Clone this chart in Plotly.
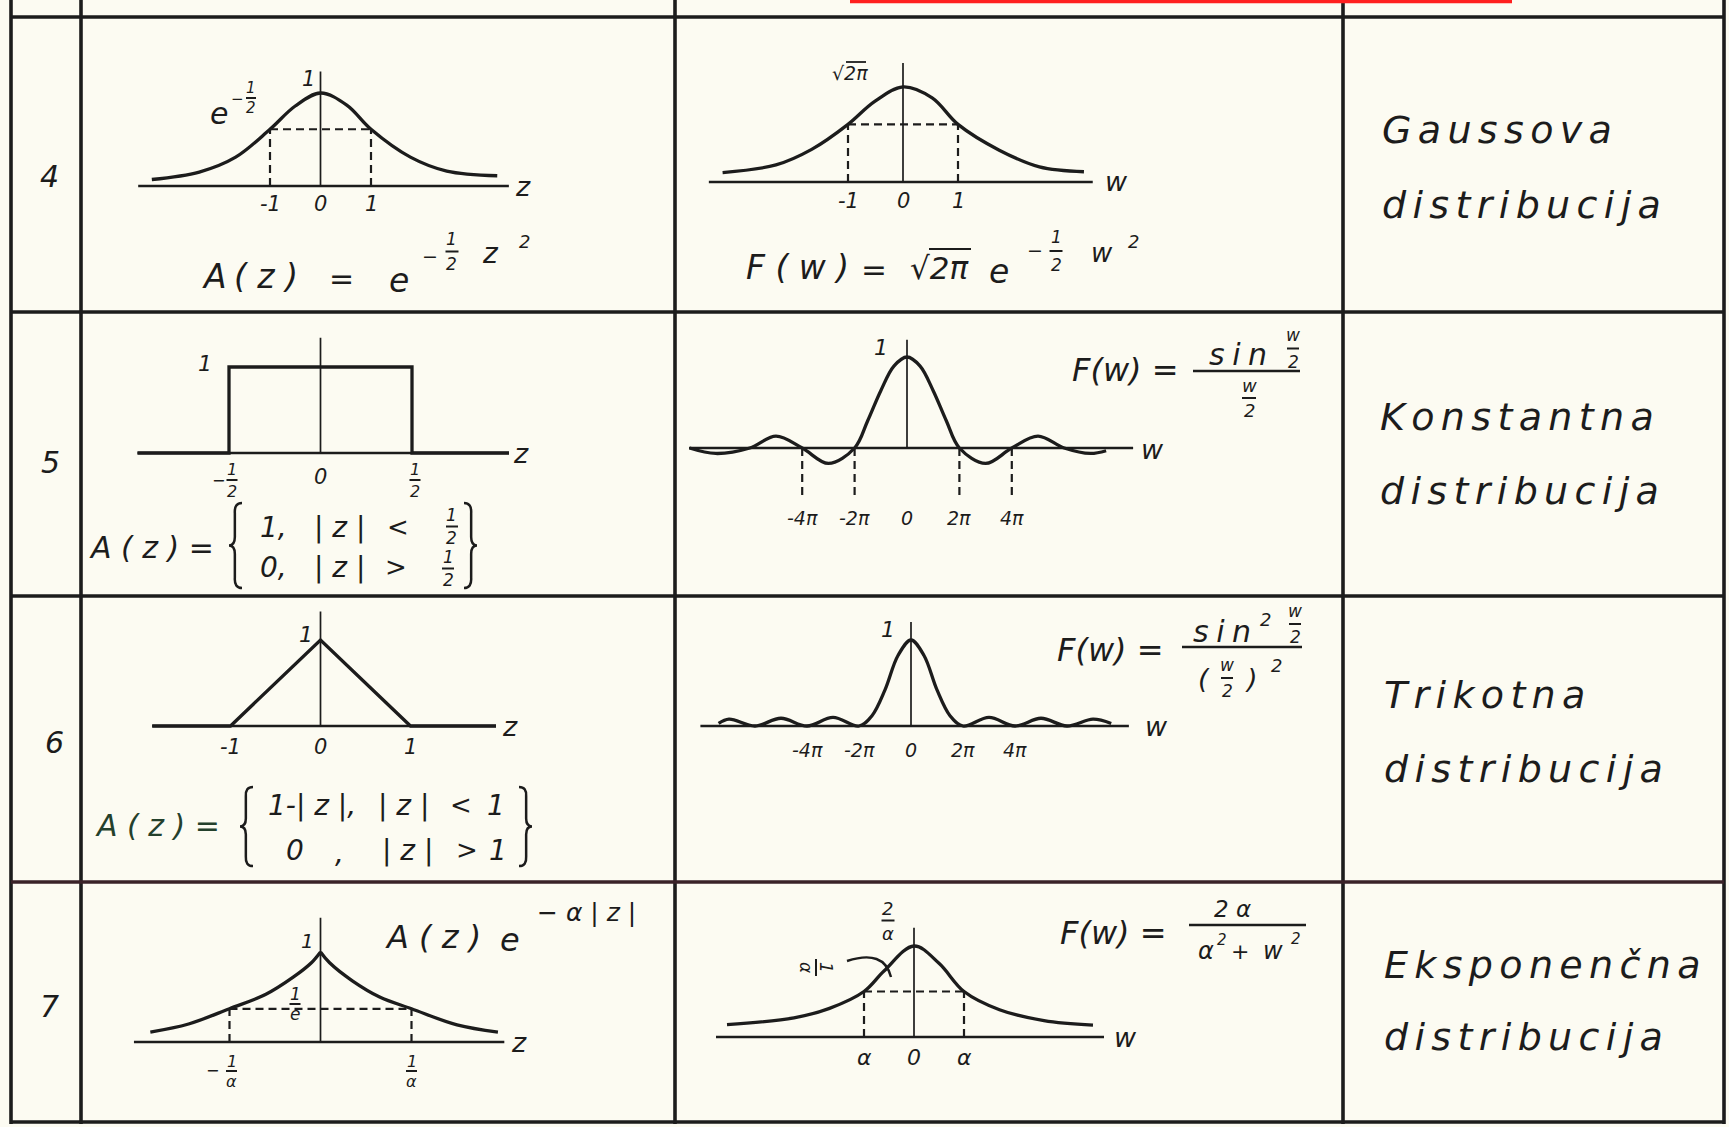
import plotly.graph_objects as go

W, H = 1729, 1127
INK = "#1c1c1c"
PAPER = "#fcfbf2"
FONT = "DejaVu Sans"
GAP = "\u2006"  # narrow letter gap for the wide drafting lettering

# ---------------- table content ----------------
ROW_NUMBERS = ["4", "5", "6", "7"]
ROW_TITLES = ["Gaussova", "Konstantna", "Trikotna", "Eksponenčna"]
ROW_SUBTITLE = "distribucija"

# Gaussian pair: A(z) = exp(-z^2/2)  <->  F(w) = sqrt(2pi) exp(-w^2/2)
GAUSS_Z = [-3.34, -2.4, -1.68, -1.0, -0.5, 0.0, 0.52, 1.0, 1.78, 2.5, 3.5]
GAUSS_A = [0.07, 0.15, 0.31, 0.61, 0.86, 1.0, 0.87, 0.61, 0.31, 0.16, 0.11]
GAUSS_Z_TICKS = [-1, 0, 1]
GAUSS_A_KNEE = [1.0, 0.61]            # (z, e^-1/2)
GAUSS_W = [-3.28, -2.31, -1.66, -1.0, -0.52, 0.0, 0.53, 1.0, 1.75, 2.48, 3.29]
GAUSS_F = [0.25, 0.45, 0.86, 1.52, 2.12, 2.51, 2.22, 1.52, 0.84, 0.40, 0.27]
GAUSS_W_TICKS = [-1, 0, 1]
GAUSS_F_KNEE = [1.0, 1.52]

# Rectangular pulse  <->  sin(w/2)/(w/2)   (w in units of pi)
RECT_Z = [-1.0, -0.5, -0.5, 0.5, 0.5, 1.03]
RECT_A = [0, 0, 1, 1, 0, 0]
SINC_W = [-8.3, -7.3, -6.0, -5.0, -4.0, -3.0, -2.0, -1.5, -1.0, -0.5, 0.0,
          0.5, 1.0, 1.5, 2.0, 3.0, 4.0, 5.0, 6.0, 7.0, 7.6]
SINC_F = [0.0, -0.06, 0.0, 0.13, 0.0, -0.17, 0.0, 0.3, 0.63, 0.9, 1.0,
          0.9, 0.63, 0.3, 0.0, -0.17, 0.0, 0.13, 0.0, -0.06, -0.03]
SINC_ZEROS = [-4, -2, 2, 4]
PI_TICKS = [-4, -2, 0, 2, 4]
PI_TICK_TEXT = ["-4π", "-2π", "0", "2π", "4π"]

# Triangular pulse  <->  sin^2(w/2)/(w/2)^2   (w in units of pi)
TRI_Z = [-1.87, -1.0, 0.0, 1.0, 1.95]
TRI_A = [0, 0, 1, 0, 0]
TRI_Z_TICKS = [-1, 0, 1]
SINC2_W = [-7.4, -7.0, -6.0, -5.0, -4.0, -3.0, -2.0, -1.5, -1.0, -0.5, 0.0,
           0.5, 1.0, 1.5, 2.0, 3.0, 4.0, 5.0, 6.0, 7.0, 7.7]
SINC2_F = [0.03, 0.08, 0.0, 0.09, 0.0, 0.1, 0.0, 0.12, 0.42, 0.82, 1.0,
           0.82, 0.42, 0.12, 0.0, 0.1, 0.0, 0.09, 0.0, 0.08, 0.03]

# Exponential  A(z) = exp(-a|z|)  <->  F(w) = 2a/(a^2 + w^2)   (a = 1)
EXP_Z = [-1.87, -1.45, -1.0, -0.6, -0.3, -0.1, 0.0, 0.1, 0.35, 0.65, 1.0, 1.5, 1.95]
EXP_A = [0.11, 0.2, 0.37, 0.53, 0.72, 0.88, 1.0, 0.88, 0.68, 0.5, 0.37, 0.19, 0.11]
EXP_KNEE = [1.0, 0.368]              # (1/a, 1/e)
LOR_W = [-3.74, -2.4, -1.69, -1.0, -0.6, 0.0, 0.5, 1.0, 1.71, 2.6, 3.58]
LOR_F = [0.27, 0.42, 0.63, 1.0, 1.45, 2.0, 1.62, 1.0, 0.6, 0.36, 0.26]
LOR_KNEE = [1.0, 1.0]                # (a, 1/a)
ALPHA_TICKS = [-1, 0, 1]
ALPHA_TICK_TEXT = ["α", "0", "α"]

# ---------------- panel geometry (pixel origin, pixels per unit) ----------------
PANELS = {
    1: (320.5, 186, 50.5, 93),
    2: (903, 182, 55, 37.9),
    3: (320.5, 453, 183, 86),
    4: (907, 448, 26.2, 91),
    5: (320.5, 726, 90, 86),
    6: (911, 726, 26.0, 86),
    7: (320.5, 1042, 91, 90),
    8: (914, 1037, 50, 45.5),
}
# drawn extent of each little coordinate system: (left, right, top of ordinate)
AXIS_EXTENT = {
    1: (-3.61, 3.73, 1.23),
    2: (-3.53, 3.45, 3.14),
    3: (-1.0, 1.03, 1.34),
    4: (-8.32, 8.63, 1.19),
    5: (-1.87, 1.95, 1.33),
    6: (-8.1, 8.38, 1.21),
    7: (-2.05, 2.02, 1.38),
    8: (-3.96, 3.8, 2.4),
}
HALF_W, UP, DOWN = 250, 160, 75

fig = go.Figure()
layout = {}
ann = []
shapes = []


def names(p):
    return ("x" if p == 1 else f"x{p}", "y" if p == 1 else f"y{p}")


for p, (ox, oy, sx, sy) in PANELS.items():
    xa, ya = names(p)
    layout["xaxis" if p == 1 else f"xaxis{p}"] = dict(
        domain=[(ox - HALF_W) / W, (ox + HALF_W) / W],
        range=[-HALF_W / sx, HALF_W / sx], visible=False, fixedrange=True, anchor=ya)
    layout["yaxis" if p == 1 else f"yaxis{p}"] = dict(
        domain=[1 - (oy + DOWN) / H, 1 - (oy - UP) / H],
        range=[-DOWN / sy, UP / sy], visible=False, fixedrange=True, anchor=xa)


def trace(p, xs, ys, width=3.0, dash=None, spline=False):
    xa, ya = names(p)
    ln = dict(color=INK, width=width)
    if dash:
        ln["dash"] = dash
    if spline:
        ln["shape"] = "spline"
        ln["smoothing"] = 1.0
    fig.add_trace(go.Scatter(x=xs, y=ys, xaxis=xa, yaxis=ya, mode="lines",
                             line=ln, hoverinfo="skip", showlegend=False))


def axes(p):
    left, right, top = AXIS_EXTENT[p]
    trace(p, [left, right], [0, 0], width=2.3)
    trace(p, [0, 0], [0, top], width=1.7)


def knee(p, k, v):
    dash = "8px,5px"
    trace(p, [-k, k], [v, v], width=2.2, dash=dash)
    trace(p, [-k, -k], [0, v], width=2.2, dash=dash)
    trace(p, [k, k], [0, v], width=2.2, dash=dash)


def T(x, y, s, size=20, anchor="center", angle=0, color=INK, italic=True):
    ann.append(dict(x=x / W, y=1 - y / H, xref="paper", yref="paper",
                    text=f"<i>{s}</i>" if italic else s, showarrow=False,
                    xanchor=anchor, yanchor="middle", textangle=angle,
                    font=dict(family=FONT, size=size, color=color)))


def tick(p, xv, s, dy, size=21):
    xa, ya = names(p)
    ann.append(dict(x=xv, y=0, xref=xa, yref=ya, text=f"<i>{s}</i>", showarrow=False,
                    xanchor="center", yanchor="middle", yshift=-dy,
                    font=dict(family=FONT, size=size, color=INK)))


def seg(x0, y0, x1, y1, width=2.0, color=INK):
    shapes.append(dict(type="line", xref="paper", yref="paper",
                       x0=x0 / W, y0=1 - y0 / H, x1=x1 / W, y1=1 - y1 / H,
                       line=dict(color=color, width=width)))


def frac(x, yn, yd, num, den, size, bar=None):
    T(x, yn, num, size)
    T(x, yd, den, size)
    b = bar if bar else size * 0.8
    seg(x - b / 2, (yn + yd) / 2, x + b / 2, (yn + yd) / 2, width=2.0)


def P(x, y):
    return f"{x / W:.5f},{1 - y / H:.5f}"


def brace(x, y0, y1, left=True, w=13):
    s = 1 if left else -1
    h = y1 - y0
    ym = (y0 + y1) / 2
    path = (f"M{P(x + s * w, y0)} Q{P(x + s * w * 0.4, y0)} {P(x + s * w * 0.45, y0 + 0.12 * h)} "
            f"L{P(x + s * w * 0.45, ym - 0.1 * h)} Q{P(x + s * w * 0.45, ym)} {P(x, ym)} "
            f"Q{P(x + s * w * 0.45, ym)} {P(x + s * w * 0.45, ym + 0.1 * h)} "
            f"L{P(x + s * w * 0.45, y1 - 0.12 * h)} Q{P(x + s * w * 0.4, y1)} {P(x + s * w, y1)}")
    shapes.append(dict(type="path", path=path, xref="paper", yref="paper",
                       line=dict(color=INK, width=2.5)))


def spaced(word, gap=GAP):
    return gap.join(word)


# ---------------- table grid ----------------
COL_X = [11, 81, 675, 1343, 1724]
ROW_Y = [17, 312, 596, 882, 1122]
for x in COL_X:
    seg(x, 0, x, 1124, width=3.6)
for y in ROW_Y:
    seg(COL_X[0], y, COL_X[-1], y, width=3.6, color="#3a2228" if y == 882 else INK)
seg(850, 1.5, 1512, 1.5, width=3.5, color="#ff1f1f")

# row numbers and distribution names
NUM_POS = [(49, 176), (50, 462), (54, 742), (49, 1006)]
TITLE_POS = [(1380, 130, 205), (1378, 417, 491), (1382, 695, 769), (1382, 965, 1037)]
for n, (x, y) in zip(ROW_NUMBERS, NUM_POS):
    T(x, y, n, 30)
for title, (x, y1, y2) in zip(ROW_TITLES, TITLE_POS):
    T(x, y1, spaced(title), 38, anchor="left")
    T(x, y2, spaced(ROW_SUBTITLE), 38, anchor="left")

# ---------------- row 4: Gaussian ----------------
axes(1)
trace(1, GAUSS_Z, GAUSS_A, width=3.3, spline=True)
knee(1, *GAUSS_A_KNEE)
for v in GAUSS_Z_TICKS:
    tick(1, v, str(v), 18)
T(308, 79, "1", 21)
T(219, 114, "e", 30)
T(237, 99, "−", 15)
frac(251, 88, 108, "1", "2", 15, bar=10)
T(523, 186, "z", 27)
T(214, 276, "A", 33)
T(266, 276, "( z )", 33)
T(341, 278, "=", 30)
T(399, 281, "e", 33)
T(430, 256, "−", 19)
frac(452, 239, 264, "1", "2", 17, bar=13)
T(491, 253, "z", 28)
T(524, 241, "2", 18)

axes(2)
trace(2, GAUSS_W, GAUSS_F, width=3.3, spline=True)
knee(2, *GAUSS_F_KNEE)
for v in GAUSS_W_TICKS:
    tick(2, v, str(v), 19)
T(850, 73, "√2π", 19)
seg(846, 62, 866, 62, width=1.8)
T(1116, 182, "w", 27)
T(797, 267, "F ( w )", 33)
T(874, 269, "=", 31)
T(939, 268, "√2π", 31)
seg(929, 249, 971, 249, width=2.2)
T(999, 272, "e", 33)
T(1035, 250, "−", 19)
frac(1056, 237, 265, "1", "2", 17, bar=13)
T(1102, 253, "w", 26)
T(1133, 241, "2", 18)

# ---------------- row 5: rectangular pulse ----------------
axes(3)
trace(3, RECT_Z, RECT_A, width=3.3)
T(205, 364, "1", 22)
ox3, _, sx3, _ = PANELS[3]
for v in (-0.5, 0.5):
    xc = ox3 + v * sx3
    frac(xc + 3, 469, 491, "1", "2", 16, bar=11)
    if v < 0:
        T(xc - 11, 480, "−", 16)
tick(3, 0, "0", 24)
T(521, 453, "z", 27)
T(151, 547, "A ( z ) =", 30)
brace(229, 503, 588, left=True)
T(273, 527, "1,", 28)
T(339, 527, "| z |", 28)
T(398, 527, "<", 26)
frac(452, 515, 538, "1", "2", 17, bar=12)
T(273, 567, "0,", 28)
T(339, 567, "| z |", 28)
T(396, 567, ">", 26)
frac(448, 557, 580, "1", "2", 17, bar=12)
brace(477, 503, 588, left=False)

axes(4)
for z in SINC_ZEROS:
    trace(4, [z, z], [0, -0.54], width=2.2, dash="8px,5px")
trace(4, SINC_W, SINC_F, width=3.3, spline=True)
for v, s in zip(PI_TICKS, PI_TICK_TEXT):
    tick(4, v, s, 70, size=19)
T(881, 347, "1", 22)
T(1152, 449, "w", 27)
T(1125, 370, "F(w) =", 32)
seg(1193, 371, 1300, 371, width=2.4)
T(1238, 354, spaced("sin", "\u2005"), 30)
frac(1293, 335, 362, "w", "2", 17, bar=12)
frac(1249, 386, 410, "w", "2", 18, bar=14)

# ---------------- row 6: triangular pulse ----------------
axes(5)
trace(5, TRI_Z, TRI_A, width=3.3)
T(306, 634, "1", 22)
for v in TRI_Z_TICKS:
    tick(5, v, str(v), 21)
T(510, 726, "z", 27)
GREEN_INK = "#24402c"
T(157, 825, "A ( z ) =", 30, color=GREEN_INK)
brace(240, 787, 866, left=True)
T(312, 805, "1-| z |,", 28)
T(403, 805, "| z |", 28)
T(461, 805, "<", 26)
T(496, 805, "1", 28)
T(295, 850, "0", 28)
T(339, 853, ",", 28)
T(407, 850, "| z |", 28)
T(467, 850, ">", 26)
T(498, 850, "1", 28)
brace(532, 787, 866, left=False)

axes(6)
trace(6, SINC2_W, SINC2_F, width=3.3, spline=True)
for v, s in zip(PI_TICKS, PI_TICK_TEXT):
    tick(6, v, s, 24, size=19)
T(888, 629, "1", 22)
T(1156, 726, "w", 27)
T(1110, 650, "F(w) =", 32)
seg(1182, 647, 1302, 647, width=2.4)
T(1222, 631, spaced("sin", "\u2005"), 30)
T(1265, 619, "2", 18)
frac(1295, 611, 637, "w", "2", 17, bar=12)
T(1204, 678, "(", 27)
frac(1227, 665, 691, "w", "2", 17, bar=12)
T(1251, 678, ")", 27)
T(1276, 665, "2", 18)

# ---------------- row 7: exponential ----------------
axes(7)
left = [(z, a) for z, a in zip(EXP_Z, EXP_A) if z <= 0]
right = [(z, a) for z, a in zip(EXP_Z, EXP_A) if z >= 0]
trace(7, [z for z, _ in left], [a for _, a in left], width=3.3, spline=True)
trace(7, [z for z, _ in right], [a for _, a in right], width=3.3, spline=True)
knee(7, *EXP_KNEE)
T(307, 941, "1", 20)
frac(295, 994, 1014, "1", "e", 17, bar=11)
ox7, _, sx7, _ = PANELS[7]
for v in (-1, 1):
    xc = ox7 + v * sx7
    frac(xc + (2 if v < 0 else 0), 1061, 1081, "1", "α", 16, bar=11)
    if v < 0:
        T(xc - 17, 1070, "−", 16)
T(519, 1042, "z", 27)
T(433, 937, "A ( z )", 32)
T(510, 940, "e", 32)
T(586, 912, "− α | z |", 25)

axes(8)
trace(8, LOR_W, LOR_F, width=3.3, spline=True)
knee(8, *LOR_KNEE)
for v, s in zip(ALPHA_TICKS, ALPHA_TICK_TEXT):
    tick(8, v, s, 20, size=22)
frac(888, 908, 933, "2", "α", 18, bar=13)
T(826, 967, "1", 17, angle=90)
T(806, 967, "α", 17, angle=90)
seg(816, 959, 816, 976, width=2.0)
shapes.append(dict(type="path", xref="paper", yref="paper",
                   path=f"M{P(847, 961)} Q{P(884, 949)} {P(891, 977)}",
                   line=dict(color=INK, width=2.4)))
T(1125, 1037, "w", 27)
T(1113, 933, "F(w) =", 32)
seg(1189, 925, 1306, 925, width=2.4)
T(1232, 909, "2 α", 23)
T(1206, 951, "α", 24)
T(1222, 940, "2", 15)
T(1240, 951, "+", 22)
T(1273, 951, "w", 24)
T(1296, 939, "2", 15)

fig.update_layout(
    width=W, height=H, margin=dict(l=0, r=0, t=0, b=0),
    paper_bgcolor=PAPER, plot_bgcolor="rgba(0,0,0,0)",
    showlegend=False, annotations=ann, shapes=shapes, **layout)

fig.write_html("out.html", config={"displayModeBar": False, "staticPlot": True})
